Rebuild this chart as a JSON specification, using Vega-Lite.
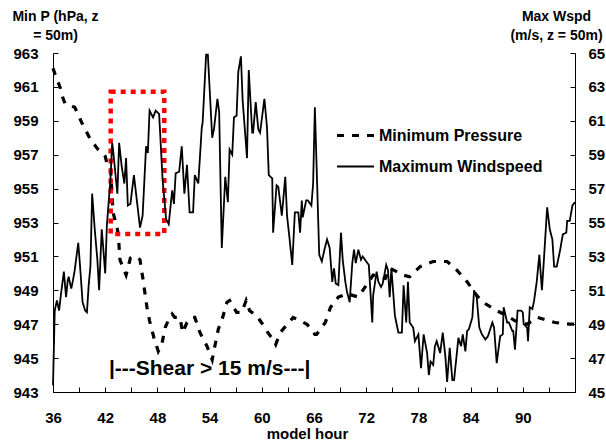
{
  "$schema": "https://vega.github.io/schema/vega-lite/v6.json",
  "width": 522,
  "height": 339,
  "autosize": {"type": "none"},
  "padding": {"left": 53, "top": 53, "right": 31, "bottom": 49},
  "background": "white",
  "config": {
    "view": {"stroke": null},
    "font": "Liberation Sans",
    "axis": {
      "grid": false,
      "domainColor": "black",
      "domainWidth": 1,
      "tickColor": "black",
      "tickWidth": 1,
      "tickSize": -5,
      "labelFont": "Liberation Sans",
      "labelFontSize": 15,
      "labelFontWeight": "bold",
      "labelColor": "black",
      "labelFlush": false,
      "labelOverlap": false,
      "titleFont": "Liberation Sans",
      "titleFontSize": 14,
      "titleFontWeight": "bold",
      "titleColor": "black"
    },
    "legend": {
      "orient": "none",
      "legendX": 282,
      "legendY": 62,
      "labelFont": "Liberation Sans",
      "labelFontSize": 16,
      "labelFontWeight": "bold",
      "labelColor": "black",
      "labelLimit": 400,
      "symbolType": "stroke",
      "symbolSize": 1369,
      "symbolStrokeColor": "black",
      "labelOffset": 3,
      "rowPadding": 3
    }
  },
  "datasets": {
    "pressure": [
      {"h": 36.0, "p": 962.1}, {"h": 36.4, "p": 961.5}, {"h": 36.8, "p": 961.0}, {"h": 37.1, "p": 960.4},
      {"h": 37.4, "p": 960.0}, {"h": 38.0, "p": 959.9}, {"h": 38.5, "p": 959.8}, {"h": 39.3, "p": 958.9},
      {"h": 40.3, "p": 957.9}, {"h": 41.2, "p": 957.3}, {"h": 42.0, "p": 956.9}, {"h": 42.2, "p": 956.5},
      {"h": 42.6, "p": 956.3}, {"h": 42.9, "p": 953.6}, {"h": 43.4, "p": 952.6}, {"h": 43.5, "p": 952.3},
      {"h": 43.7, "p": 950.8}, {"h": 44.0, "p": 950.4}, {"h": 44.4, "p": 949.9}, {"h": 44.9, "p": 950.9},
      {"h": 45.5, "p": 951.0}, {"h": 46.0, "p": 950.8}, {"h": 46.3, "p": 949.8}, {"h": 46.8, "p": 948.0},
      {"h": 47.1, "p": 947.2}, {"h": 47.6, "p": 946.2}, {"h": 48.1, "p": 945.4}, {"h": 48.5, "p": 945.8},
      {"h": 48.9, "p": 946.8}, {"h": 49.3, "p": 947.3}, {"h": 49.7, "p": 947.6}, {"h": 50.0, "p": 947.4},
      {"h": 50.6, "p": 947.4}, {"h": 50.9, "p": 946.5}, {"h": 51.4, "p": 947.1}, {"h": 52.0, "p": 947.4},
      {"h": 52.3, "p": 947.4}, {"h": 52.9, "p": 946.5}, {"h": 53.7, "p": 945.7}, {"h": 54.3, "p": 944.9},
      {"h": 54.6, "p": 945.7}, {"h": 55.0, "p": 946.7}, {"h": 55.5, "p": 947.4}, {"h": 56.0, "p": 948.3},
      {"h": 56.3, "p": 948.4}, {"h": 57.1, "p": 947.7}, {"h": 57.7, "p": 947.7}, {"h": 58.2, "p": 948.4},
      {"h": 58.6, "p": 947.8}, {"h": 59.4, "p": 947.5}, {"h": 60.1, "p": 947.0}, {"h": 60.7, "p": 946.5},
      {"h": 61.3, "p": 946.1}, {"h": 61.6, "p": 945.8}, {"h": 62.1, "p": 946.5}, {"h": 62.6, "p": 946.8},
      {"h": 63.6, "p": 947.4}, {"h": 64.4, "p": 947.2}, {"h": 65.2, "p": 947.0}, {"h": 66.1, "p": 946.4},
      {"h": 66.3, "p": 946.4}, {"h": 67.3, "p": 947.1}, {"h": 67.9, "p": 948.0}, {"h": 68.8, "p": 948.6},
      {"h": 69.8, "p": 948.8}, {"h": 71.1, "p": 948.6}, {"h": 72.8, "p": 949.9}, {"h": 74.2, "p": 949.7},
      {"h": 74.7, "p": 950.3}, {"h": 75.5, "p": 950.1}, {"h": 76.2, "p": 949.9}, {"h": 77.0, "p": 949.8},
      {"h": 78.2, "p": 950.4}, {"h": 79.7, "p": 950.7}, {"h": 81.3, "p": 950.7}, {"h": 82.4, "p": 950.2},
      {"h": 83.6, "p": 949.5}, {"h": 84.7, "p": 948.7}, {"h": 85.4, "p": 948.3}, {"h": 87.0, "p": 947.8},
      {"h": 88.2, "p": 947.5}, {"h": 89.1, "p": 947.2}, {"h": 90.5, "p": 947.0}, {"h": 91.7, "p": 947.4},
      {"h": 93.7, "p": 947.1}, {"h": 95.4, "p": 947.0}, {"h": 96.0, "p": 947.0}
    ],
    "wind": [
      {"h": 36.0, "w": 45.4}, {"h": 36.2, "w": 49.8}, {"h": 36.45, "w": 50.4}, {"h": 36.7, "w": 49.8},
      {"h": 36.9, "w": 50.7}, {"h": 37.25, "w": 52.1}, {"h": 37.5, "w": 50.6}, {"h": 37.7, "w": 51.6},
      {"h": 37.8, "w": 51.8}, {"h": 38.1, "w": 51.1}, {"h": 38.3, "w": 51.6}, {"h": 38.5, "w": 52.2},
      {"h": 38.9, "w": 53.8}, {"h": 39.1, "w": 52.5}, {"h": 39.4, "w": 50.3}, {"h": 39.7, "w": 49.8},
      {"h": 39.9, "w": 49.7}, {"h": 40.1, "w": 51.3}, {"h": 40.3, "w": 52.4}, {"h": 40.5, "w": 56.7},
      {"h": 40.8, "w": 54.6}, {"h": 41.1, "w": 52.8}, {"h": 41.3, "w": 51.0}, {"h": 41.6, "w": 54.6},
      {"h": 41.7, "w": 54.0}, {"h": 42.0, "w": 52.0}, {"h": 42.2, "w": 54.9}, {"h": 42.6, "w": 57.5},
      {"h": 42.8, "w": 59.7}, {"h": 42.9, "w": 59.3}, {"h": 43.4, "w": 56.7}, {"h": 43.6, "w": 59.7},
      {"h": 43.9, "w": 58.3}, {"h": 44.2, "w": 57.3}, {"h": 44.4, "w": 58.8}, {"h": 44.6, "w": 56.0},
      {"h": 44.9, "w": 56.1}, {"h": 45.3, "w": 57.8}, {"h": 46.0, "w": 54.7}, {"h": 46.3, "w": 55.4},
      {"h": 46.7, "w": 59.5}, {"h": 46.9, "w": 59.1}, {"h": 47.1, "w": 61.6}, {"h": 47.5, "w": 61.2},
      {"h": 47.8, "w": 61.6}, {"h": 48.2, "w": 61.4}, {"h": 48.6, "w": 57.5}, {"h": 49.0, "w": 55.2},
      {"h": 49.3, "w": 54.9}, {"h": 49.7, "w": 56.9}, {"h": 49.9, "w": 56.1}, {"h": 50.1, "w": 57.9},
      {"h": 50.5, "w": 58.0}, {"h": 50.8, "w": 59.5}, {"h": 51.1, "w": 56.7}, {"h": 51.4, "w": 58.4},
      {"h": 51.7, "w": 55.6}, {"h": 52.1, "w": 55.6}, {"h": 52.3, "w": 57.8}, {"h": 52.7, "w": 57.3},
      {"h": 53.1, "w": 60.6}, {"h": 53.2, "w": 60.9}, {"h": 53.6, "w": 64.9}, {"h": 53.8, "w": 64.9},
      {"h": 54.3, "w": 60.0}, {"h": 54.5, "w": 60.5}, {"h": 54.9, "w": 62.3}, {"h": 55.1, "w": 61.5},
      {"h": 55.4, "w": 53.5}, {"h": 55.8, "w": 57.7}, {"h": 56.1, "w": 56.2}, {"h": 56.3, "w": 59.3},
      {"h": 56.6, "w": 59.0}, {"h": 56.8, "w": 61.2}, {"h": 57.1, "w": 61.3}, {"h": 57.3, "w": 63.9},
      {"h": 57.6, "w": 64.8}, {"h": 57.8, "w": 62.2}, {"h": 58.3, "w": 58.8}, {"h": 58.5, "w": 64.0},
      {"h": 58.9, "w": 60.3}, {"h": 59.0, "w": 60.3}, {"h": 59.3, "w": 62.1}, {"h": 59.6, "w": 60.5},
      {"h": 59.8, "w": 60.3}, {"h": 60.3, "w": 62.3}, {"h": 60.6, "w": 60.6}, {"h": 60.8, "w": 57.8},
      {"h": 61.2, "w": 57.6}, {"h": 61.3, "w": 54.4}, {"h": 61.7, "w": 57.2}, {"h": 61.9, "w": 57.1},
      {"h": 62.3, "w": 55.4}, {"h": 62.7, "w": 57.7}, {"h": 62.9, "w": 55.4}, {"h": 63.2, "w": 54.0},
      {"h": 63.5, "w": 52.5}, {"h": 63.8, "w": 55.6}, {"h": 64.2, "w": 55.6}, {"h": 64.4, "w": 54.4},
      {"h": 64.6, "w": 56.3}, {"h": 64.7, "w": 55.3}, {"h": 65.1, "w": 56.3}, {"h": 65.3, "w": 56.3},
      {"h": 65.7, "w": 56.0}, {"h": 65.9, "w": 57.3}, {"h": 66.1, "w": 61.8}, {"h": 66.6, "w": 53.1},
      {"h": 66.9, "w": 52.7}, {"h": 67.2, "w": 53.4}, {"h": 67.5, "w": 54.0}, {"h": 67.8, "w": 53.5},
      {"h": 68.1, "w": 51.5}, {"h": 68.3, "w": 52.3}, {"h": 68.5, "w": 51.4}, {"h": 68.8, "w": 51.3},
      {"h": 69.1, "w": 54.4}, {"h": 69.3, "w": 52.8}, {"h": 69.6, "w": 51.5}, {"h": 69.8, "w": 50.9},
      {"h": 70.1, "w": 50.3}, {"h": 70.4, "w": 52.6}, {"h": 70.6, "w": 53.4}, {"h": 70.8, "w": 52.6},
      {"h": 71.1, "w": 53.4}, {"h": 71.4, "w": 52.8}, {"h": 71.6, "w": 53.0}, {"h": 72.0, "w": 52.7},
      {"h": 72.3, "w": 52.5}, {"h": 72.7, "w": 49.1}, {"h": 72.8, "w": 50.7}, {"h": 73.0, "w": 51.4},
      {"h": 73.2, "w": 52.1}, {"h": 73.4, "w": 51.5}, {"h": 73.7, "w": 51.2}, {"h": 73.9, "w": 51.4},
      {"h": 74.3, "w": 52.5}, {"h": 74.5, "w": 52.2}, {"h": 74.7, "w": 50.6}, {"h": 74.9, "w": 52.3},
      {"h": 75.3, "w": 49.5}, {"h": 75.7, "w": 48.5}, {"h": 76.1, "w": 48.5}, {"h": 76.3, "w": 51.3},
      {"h": 76.6, "w": 49.1}, {"h": 76.8, "w": 51.5}, {"h": 77.0, "w": 49.1}, {"h": 77.4, "w": 48.8},
      {"h": 77.6, "w": 48.0}, {"h": 78.0, "w": 48.4}, {"h": 78.3, "w": 46.4}, {"h": 78.6, "w": 48.4},
      {"h": 79.0, "w": 47.3}, {"h": 79.2, "w": 46.0}, {"h": 79.4, "w": 46.8}, {"h": 79.7, "w": 46.6},
      {"h": 79.9, "w": 47.7}, {"h": 80.1, "w": 48.0}, {"h": 80.5, "w": 47.3}, {"h": 80.8, "w": 48.5},
      {"h": 81.1, "w": 47.1}, {"h": 81.3, "w": 45.6}, {"h": 81.6, "w": 47.6}, {"h": 81.9, "w": 45.7},
      {"h": 82.1, "w": 45.7}, {"h": 82.6, "w": 48.2}, {"h": 82.9, "w": 47.7}, {"h": 83.1, "w": 48.4},
      {"h": 83.4, "w": 47.4}, {"h": 83.6, "w": 48.6}, {"h": 83.8, "w": 48.7}, {"h": 84.2, "w": 49.4},
      {"h": 84.4, "w": 51.0}, {"h": 84.7, "w": 50.6}, {"h": 85.0, "w": 48.8}, {"h": 85.3, "w": 48.4},
      {"h": 85.7, "w": 48.1}, {"h": 86.0, "w": 48.3}, {"h": 86.5, "w": 49.1}, {"h": 86.7, "w": 48.8},
      {"h": 87.0, "w": 46.7}, {"h": 87.4, "w": 48.3}, {"h": 87.7, "w": 48.4}, {"h": 87.8, "w": 50.0},
      {"h": 88.2, "w": 49.1}, {"h": 88.4, "w": 49.1}, {"h": 88.8, "w": 48.6}, {"h": 88.9, "w": 48.6},
      {"h": 89.1, "w": 47.5}, {"h": 89.4, "w": 49.8}, {"h": 89.8, "w": 49.8}, {"h": 90.0, "w": 49.7},
      {"h": 90.1, "w": 49.0}, {"h": 90.5, "w": 48.8}, {"h": 90.6, "w": 48.0}, {"h": 90.8, "w": 50.0},
      {"h": 91.1, "w": 49.9}, {"h": 91.3, "w": 50.4}, {"h": 91.6, "w": 51.5}, {"h": 91.9, "w": 53.1},
      {"h": 92.2, "w": 51.0}, {"h": 92.4, "w": 52.6}, {"h": 92.8, "w": 55.9}, {"h": 93.1, "w": 54.6},
      {"h": 93.4, "w": 54.0}, {"h": 93.6, "w": 52.4}, {"h": 93.9, "w": 52.4}, {"h": 94.3, "w": 53.4},
      {"h": 94.6, "w": 54.3}, {"h": 95.0, "w": 54.4}, {"h": 95.1, "w": 55.1}, {"h": 95.4, "w": 55.1},
      {"h": 95.7, "w": 56.0}, {"h": 96.0, "w": 56.2}
    ],
    "annot": [
      {"x1": 42.63, "x2": 48.79, "y1": 960.72, "y2": 952.32, "tx": 54.0, "ty": 944.36, "label": "|---Shear > 15 m/s---|"}
    ]
  },
  "encoding": {
    "x": {
      "field": "h",
      "type": "quantitative",
      "scale": {"domain": [36, 96], "nice": false, "zero": false},
      "axis": {
        "values": [36, 39, 42, 45, 48, 51, 54, 57, 60, 63, 66, 69, 72, 75, 78, 81, 84, 87, 90, 93, 96],
        "labelExpr": "datum.value % 6 == 0 && datum.value < 96 ? datum.label : ''",
        "labelPadding": 23,
        "labelOverlap": false,
        "title": "model hour",
        "titleFontSize": 15,
        "titleX": 254,
        "titleY": 41,
        "titleBaseline": "middle",
        "titleAlign": "center"
      }
    }
  },
  "layer": [
    {
      "layer": [
        {
          "data": {"name": "pressure"},
          "mark": {"type": "line", "color": "black", "strokeCap": "butt", "interpolate": "linear"},
          "encoding": {
            "y": {
              "field": "p",
              "type": "quantitative",
              "scale": {"domain": [943, 963], "nice": false, "zero": false},
              "axis": {
                "orient": "left",
                "values": [943, 945, 947, 949, 951, 953, 955, 957, 959, 961, 963],
                "labelOverlap": false,
                "labelPadding": 20,
                "title": ["Min P (hPa, z", "= 50m)"],
                "titleAngle": 0,
                "titleAlign": "center",
                "titleBaseline": "alphabetic",
                "titleX": 2,
                "titleY": -33,
                "titleLineHeight": 19
              }
            },
            "strokeDash": {
              "datum": "Minimum Pressure",
              "scale": {"domain": ["Minimum Pressure", "Maximum Windspeed"], "range": [[7, 8], [1, 0]]},
              "legend": {"title": null}
            },
            "strokeWidth": {
              "datum": "Minimum Pressure",
              "scale": {"domain": ["Minimum Pressure", "Maximum Windspeed"], "range": [3.2, 1.8]},
              "legend": {"title": null}
            }
          }
        },
        {
          "data": {"name": "annot"},
          "mark": {"type": "rect", "fill": "transparent", "stroke": "#ff0000", "strokeWidth": 4.5, "strokeDash": [5, 5]},
          "encoding": {
            "x": {"field": "x1", "type": "quantitative"},
            "x2": {"field": "x2"},
            "y": {
              "field": "y1",
              "type": "quantitative",
              "axis": {
                "orient": "left",
                "values": [943, 945, 947, 949, 951, 953, 955, 957, 959, 961, 963],
                "labelOverlap": false,
                "labelPadding": 20,
                "title": ["Min P (hPa, z", "= 50m)"],
                "titleAngle": 0,
                "titleAlign": "center",
                "titleBaseline": "alphabetic",
                "titleX": 2,
                "titleY": -33,
                "titleLineHeight": 19
              }
            },
            "y2": {"field": "y2"}
          }
        },
        {
          "data": {"name": "annot"},
          "mark": {"type": "text", "font": "Liberation Sans", "fontSize": 21, "fontWeight": "bold", "color": "black", "align": "center", "baseline": "middle"},
          "encoding": {
            "x": {"field": "tx", "type": "quantitative"},
            "y": {
              "field": "ty",
              "type": "quantitative",
              "axis": {
                "orient": "left",
                "values": [943, 945, 947, 949, 951, 953, 955, 957, 959, 961, 963],
                "labelOverlap": false,
                "labelPadding": 20,
                "title": ["Min P (hPa, z", "= 50m)"],
                "titleAngle": 0,
                "titleAlign": "center",
                "titleBaseline": "alphabetic",
                "titleX": 2,
                "titleY": -33,
                "titleLineHeight": 19
              }
            },
            "text": {"field": "label"}
          }
        }
      ]
    },
    {
      "data": {"name": "wind"},
      "mark": {"type": "line", "color": "black", "interpolate": "linear"},
      "encoding": {
        "y": {
          "field": "w",
          "type": "quantitative",
          "scale": {"domain": [45, 65], "nice": false, "zero": false},
          "axis": {
            "orient": "right",
            "values": [45, 47, 49, 51, 53, 55, 57, 59, 61, 63, 65],
            "labelOverlap": false,
            "labelPadding": 18,
            "title": ["Max Wspd", "(m/s, z = 50m)"],
            "titleAngle": 0,
            "titleAlign": "center",
            "titleBaseline": "alphabetic",
            "titleX": -19,
            "titleY": -33,
            "titleLineHeight": 19
          }
        },
        "strokeDash": {"datum": "Maximum Windspeed"},
        "strokeWidth": {"datum": "Maximum Windspeed"}
      }
    }
  ],
  "resolve": {"scale": {"y": "independent"}}
}
